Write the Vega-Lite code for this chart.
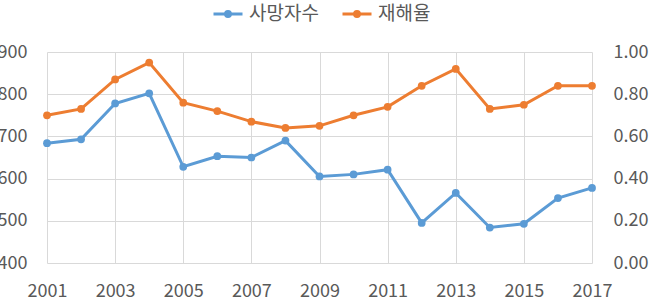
{
  "$schema": "https://vega.github.io/schema/vega-lite/v6.json",
  "width": 545,
  "height": 211,
  "autosize": "none",
  "padding": {"left": 47, "top": 52, "right": 64, "bottom": 40},
  "background": "white",
  "config": {
    "view": {"stroke": null},
    "font": "Noto Sans CJK KR",
    "axis": {
      "labelFont": "Noto Sans CJK KR",
      "labelFontSize": 18,
      "labelColor": "#595959",
      "labelFlush": false,
      "labelOverlap": false,
      "ticks": false,
      "domain": false,
      "gridColor": "#d9d9d9",
      "gridWidth": 1,
      "title": null
    }
  },
  "data": {
    "values": [
      {"year": 2001, "series": "사망자수", "value": 684},
      {"year": 2002, "series": "사망자수", "value": 693},
      {"year": 2003, "series": "사망자수", "value": 778},
      {"year": 2004, "series": "사망자수", "value": 802},
      {"year": 2005, "series": "사망자수", "value": 628},
      {"year": 2006, "series": "사망자수", "value": 653},
      {"year": 2007, "series": "사망자수", "value": 650},
      {"year": 2008, "series": "사망자수", "value": 690},
      {"year": 2009, "series": "사망자수", "value": 605},
      {"year": 2010, "series": "사망자수", "value": 610},
      {"year": 2011, "series": "사망자수", "value": 621},
      {"year": 2012, "series": "사망자수", "value": 495},
      {"year": 2013, "series": "사망자수", "value": 566},
      {"year": 2014, "series": "사망자수", "value": 484},
      {"year": 2015, "series": "사망자수", "value": 493},
      {"year": 2016, "series": "사망자수", "value": 554},
      {"year": 2017, "series": "사망자수", "value": 578},
      {"year": 2001, "series": "재해율", "value": 0.70},
      {"year": 2002, "series": "재해율", "value": 0.73},
      {"year": 2003, "series": "재해율", "value": 0.87},
      {"year": 2004, "series": "재해율", "value": 0.95},
      {"year": 2005, "series": "재해율", "value": 0.76},
      {"year": 2006, "series": "재해율", "value": 0.72},
      {"year": 2007, "series": "재해율", "value": 0.67},
      {"year": 2008, "series": "재해율", "value": 0.64},
      {"year": 2009, "series": "재해율", "value": 0.65},
      {"year": 2010, "series": "재해율", "value": 0.70},
      {"year": 2011, "series": "재해율", "value": 0.74},
      {"year": 2012, "series": "재해율", "value": 0.84},
      {"year": 2013, "series": "재해율", "value": 0.92},
      {"year": 2014, "series": "재해율", "value": 0.73},
      {"year": 2015, "series": "재해율", "value": 0.75},
      {"year": 2016, "series": "재해율", "value": 0.84},
      {"year": 2017, "series": "재해율", "value": 0.84}
    ]
  },
  "encoding": {
    "x": {
      "field": "year",
      "type": "quantitative",
      "scale": {"domain": [2001, 2017], "nice": false, "zero": false},
      "axis": {
        "values": [2001, 2003, 2005, 2007, 2009, 2011, 2013, 2015, 2017],
        "format": "d",
        "grid": true,
        "labelPadding": 19
      }
    },
    "color": {
      "field": "series",
      "type": "nominal",
      "scale": {"domain": ["사망자수", "재해율"], "range": ["#5B9BD5", "#ED7D31"]},
      "legend": {
        "orient": "none",
        "legendX": 165,
        "legendY": -54,
        "direction": "horizontal",
        "title": null,
        "labelFont": "Noto Sans CJK KR",
        "labelFontSize": 19,
        "labelColor": "#595959",
        "symbolType": "M-1,0L1,0M-0.17,0A0.17,0.17 0 1,0 0.17,0A0.17,0.17 0 1,0 -0.17,0",
        "symbolSize": 841,
        "symbolStrokeWidth": 3,
        "labelOffset": 5,
        "columnPadding": 17
      }
    }
  },
  "layer": [
    {
      "transform": [{"filter": "datum.series === '사망자수'"}],
      "mark": {"type": "line", "strokeWidth": 3, "point": {"filled": true, "size": 60}},
      "encoding": {
        "y": {
          "field": "value",
          "type": "quantitative",
          "scale": {"domain": [400, 900], "nice": false, "zero": false},
          "axis": {
            "orient": "left",
            "values": [400, 500, 600, 700, 800, 900],
            "grid": true,
            "labelPadding": 20
          }
        }
      }
    },
    {
      "transform": [{"filter": "datum.series === '재해율'"}],
      "mark": {"type": "line", "strokeWidth": 3, "point": {"filled": true, "size": 60}},
      "encoding": {
        "y": {
          "field": "value",
          "type": "quantitative",
          "scale": {"domain": [0, 1], "nice": false, "zero": true},
          "axis": {
            "orient": "right",
            "values": [0, 0.2, 0.4, 0.6, 0.8, 1.0],
            "format": ".2f",
            "grid": false,
            "labelPadding": 21
          }
        }
      }
    }
  ],
  "resolve": {"scale": {"y": "independent"}}
}
